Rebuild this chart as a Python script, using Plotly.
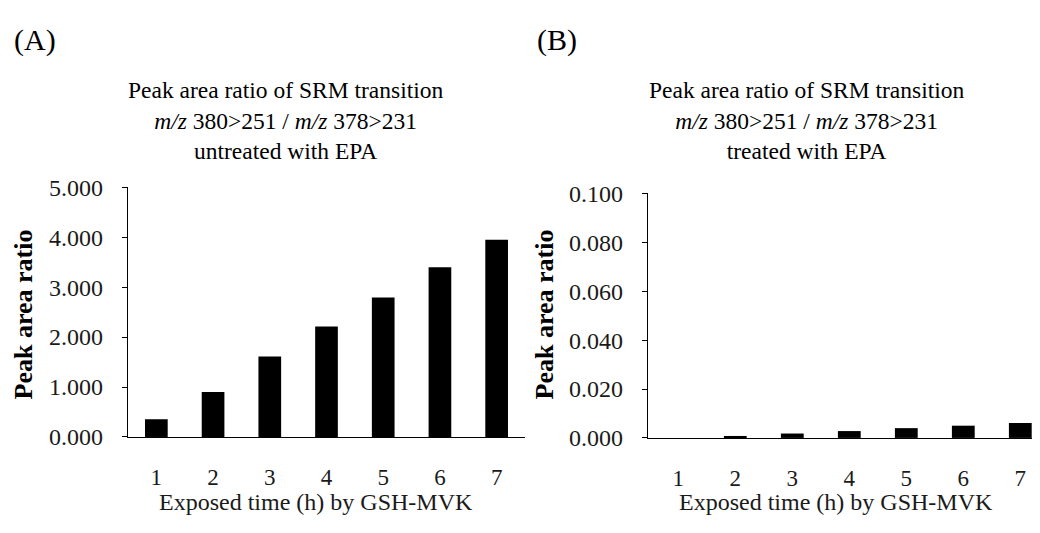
import plotly.graph_objects as go

hours = [1, 2, 3, 4, 5, 6, 7]
ratio_untreated = [0.355, 0.90, 1.61, 2.21, 2.79, 3.40, 3.95]
ratio_treated = [0.0, 0.0008, 0.0018, 0.0028, 0.0040, 0.0050, 0.0061]

title_a = "Peak area ratio of SRM transition<br><i>m/z</i> 380>251 / <i>m/z</i> 378>231<br>untreated with EPA"
title_b = "Peak area ratio of SRM transition<br><i>m/z</i> 380>251 / <i>m/z</i> 378>231<br>treated with EPA"
y_title = "<b>Peak area ratio</b>"
x_title = "Exposed time (h) by GSH-MVK"

# page is 1040x533; the HTML body keeps an 8px margin, so the figure fills the rest
OFF = 8
W, H = 1040 - 2 * OFF, 533 - 2 * OFF
FONT = "Liberation Serif, Times New Roman, serif"

def px_x(p):
    return (p - OFF) / W

def px_y(p):
    return 1 - (p - OFF) / H

fig = go.Figure()
fig.add_trace(go.Bar(x=hours, y=ratio_untreated, marker=dict(color="black", line=dict(width=0)),
                     xaxis="x", yaxis="y", showlegend=False))
fig.add_trace(go.Bar(x=hours, y=ratio_treated, marker=dict(color="black", line=dict(width=0)),
                     xaxis="x2", yaxis="y2", showlegend=False))

xtickfont = dict(family=FONT, size=23, color="#1a1a1a")
ytickfont = dict(family=FONT, size=24, color="#1a1a1a")
common_x = dict(showline=True, linecolor="black", linewidth=1.3, ticks="", showgrid=False,
                zeroline=False, tickfont=xtickfont, tickmode="array", tickvals=hours,
                ticktext=[str(h) for h in hours], ticklabelstandoff=19)
common_y = dict(showline=True, linecolor="black", linewidth=1.3, ticks="outside", ticklen=5,
                tickcolor="black", showgrid=False, zeroline=False, tickfont=ytickfont,
                tickformat=".3f", ticklabelstandoff=14)

unit_b = 57.0
b_start = 0.5 - (649.8 - 648) / unit_b
b_end = b_start + (W + OFF - 648) / unit_b

fig.update_layout(
    width=W, height=H,
    margin=dict(l=0, r=0, t=0, b=0),
    paper_bgcolor="white", plot_bgcolor="white",
    bargap=0.6,
    xaxis=dict(domain=[px_x(128), px_x(525)], range=[0.5, 7.5], anchor="y", **common_x),
    yaxis=dict(domain=[px_y(446), px_y(183)], range=[0, 5], dtick=1, anchor="x", **common_y),
    xaxis2=dict(domain=[px_x(648), 1.0], range=[b_start, b_end], anchor="y2", **common_x),
    yaxis2=dict(domain=[px_y(447), px_y(189.5)], range=[0, 0.1], dtick=0.02, anchor="x2", **common_y),
)

ann = []
for tcx, xcx, title, ytx in [(285, 316, title_a, 23), (806, 836, title_b, 544)]:
    ann.append(dict(text=title, x=px_x(tcx), y=px_y(113), xref="paper", yref="paper",
                    xanchor="center", yanchor="middle", showarrow=False,
                    font=dict(family=FONT, size=23.5, color="black")))
    ann.append(dict(text=y_title, x=px_x(ytx), y=px_y(317), xref="paper", yref="paper",
                    xanchor="center", yanchor="middle", textangle=-90, showarrow=False,
                    font=dict(family=FONT, size=26, color="black")))
    ann.append(dict(text=x_title, x=px_x(xcx), y=px_y(514), xref="paper", yref="paper",
                    xanchor="center", yanchor="middle", showarrow=False,
                    font=dict(family=FONT, size=24, color="#1a1a1a")))
ann.append(dict(text="(A)", x=px_x(12), y=px_y(28), xref="paper", yref="paper",
                xanchor="left", yanchor="middle", showarrow=False,
                font=dict(family=FONT, size=30, color="black")))
ann.append(dict(text="(B)", x=px_x(535), y=px_y(28), xref="paper", yref="paper",
                xanchor="left", yanchor="middle", showarrow=False,
                font=dict(family=FONT, size=30, color="black")))
for a in ann:
    fig.add_annotation(**a)

fig.write_html("out.html")
